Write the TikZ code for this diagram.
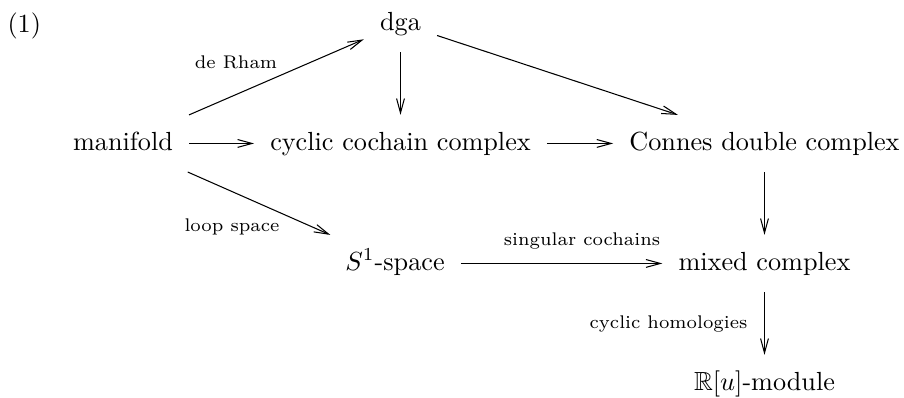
\documentclass[tikz,border=0pt]{standalone}
\usepackage{amssymb}
\usetikzlibrary{arrows.meta}
\begin{document}
\begin{tikzpicture}[x=0.3817pt,y=-0.3817pt,
  obj/.style={anchor=base,text height=7pt,text depth=2pt,inner xsep=6pt,inner ysep=6.2pt,font=\normalsize},
  lbl/.style={font=\scriptsize,inner sep=0pt},
  arr/.style={line width=0.4pt,-{Straight Barb[length=5.5pt,width=3pt,line width=0.4pt]}}]
\useasboundingbox (0,0) rectangle (904,398);
\node[anchor=base west,inner sep=0pt] (num) at (7,32) {(1)};
\node[obj] (dga) at (400.5,30) {dga};
\node[obj] (man) at (123,150) {manifold};
\node[obj] (cyc) at (400.5,150) {cyclic cochain complex};
\node[obj] (con) at (764.5,150) {Connes double complex};
\node[obj] (sone) at (395,270) {$S^1$-space};
\node[obj] (mix) at (764.5,270) {mixed complex};
\node[obj] (ru) at (764.5,390) {$\mathbb{R}[u]$-module};
\draw[arr] (man) -- (dga);
\draw[arr] (dga) -- (cyc);
\draw[arr] (dga) -- (con);
\draw[arr] (man) -- (cyc);
\draw[arr] (cyc) -- (con);
\draw[arr] (man) -- (sone);
\draw[arr] (con) -- (mix);
\draw[arr] (sone) -- (mix);
\draw[arr] (mix) -- (ru);
\node[lbl,anchor=base] (lderham) at (236,68) {de Rham};
\node[lbl,anchor=base] (lloop) at (232,231) {loop space};
\node[lbl,anchor=base] (lsing) at (582,245) {singular cochains};
\node[lbl,anchor=base east] (lcyc) at (748,328) {cyclic homologies};
\end{tikzpicture}
\end{document}
